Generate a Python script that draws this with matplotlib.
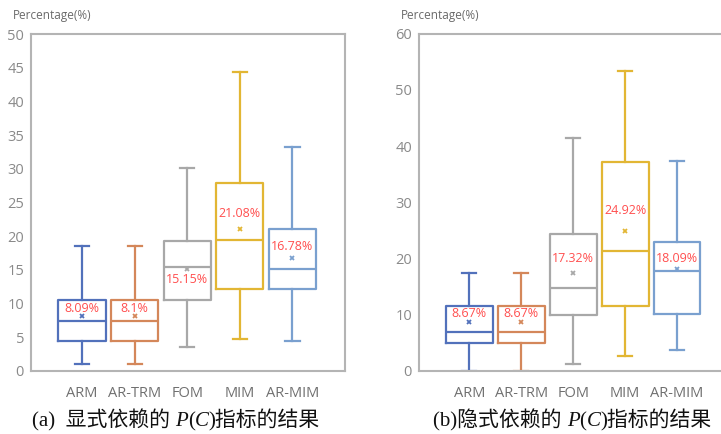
import matplotlib
matplotlib.use("Agg")
import matplotlib.pyplot as plt
from matplotlib.offsetbox import TextArea, HPacker, AnchoredOffsetbox

# Categories and box statistics
methods = ["ARM", "AR-TRM", "FOM", "MIM", "AR-MIM"]
colors = ["#5271bb", "#d4875a", "#a8a8a8", "#e2b634", "#7aa0cf"]

# (a) explicit dependency
a_whislo = [1.0, 1.0, 3.6, 4.8, 4.5]
a_q1 = [4.4, 4.4, 10.5, 12.2, 12.1]
a_med = [7.4, 7.4, 15.5, 19.4, 15.1]
a_q3 = [10.6, 10.6, 19.3, 27.9, 21.0]
a_whishi = [18.6, 18.6, 30.1, 44.3, 33.3]
a_mean = [8.09, 8.1, 15.15, 21.08, 16.78]
a_labels = ["8.09%", "8.1%", "15.15%", "21.08%", "16.78%"]
a_label_y = [9.3, 9.3, 13.6, 23.4, 18.5]

# (b) implicit dependency
b_whislo = [0.0, 0.0, 1.2, 2.6, 3.7]
b_q1 = [4.9, 4.9, 10.0, 11.5, 10.1]
b_med = [6.9, 6.9, 14.7, 21.3, 17.7]
b_q3 = [11.6, 11.6, 24.4, 37.1, 23.0]
b_whishi = [17.4, 17.4, 41.4, 53.3, 37.4]
b_mean = [8.67, 8.67, 17.32, 24.92, 18.09]
b_labels = ["8.67%", "8.67%", "17.32%", "24.92%", "18.09%"]
b_label_y = [10.2, 10.2, 20.0, 28.5, 20.0]

sans = ["Open Sans", "DejaVu Sans"]
plt.rcParams["font.family"] = sans

fig = plt.figure(figsize=(7.21, 4.34), dpi=100)
ax_a = fig.add_axes([31 / 721, 63 / 434, 314 / 721, 337 / 434])
ax_b = fig.add_axes([419 / 721, 63.3 / 434, 310 / 721, 337 / 434])


def draw_panel(ax, whislo, q1, med, q3, whishi, mean, labels, label_y, ymax, ystep):
    pos = list(range(1, len(methods) + 1))
    for i in range(len(methods)):
        c = colors[i]
        s = dict(whislo=whislo[i], q1=q1[i], med=med[i], q3=q3[i],
                 whishi=whishi[i], mean=mean[i], fliers=[])
        ax.bxp([s], positions=[pos[i]], widths=0.9, showmeans=True,
               showfliers=False,
               boxprops=dict(color=c, linewidth=1.6),
               medianprops=dict(color=c, linewidth=1.6),
               whiskerprops=dict(color=c, linewidth=1.6),
               capprops=dict(color=c, linewidth=1.6),
               capwidths=0.27,
               meanprops=dict(marker="x", markeredgecolor=c, markersize=3.5,
                              markeredgewidth=1.3))
        ax.text(pos[i], label_y[i], labels[i], color="#ff4f4f", fontsize=9,
                ha="center", va="center")
    ax.set_xlim(0.03, 6.0)
    ax.set_ylim(0, ymax)
    ax.set_yticks(range(0, ymax + 1, ystep))
    ax.set_xticks(pos)
    ax.set_xticklabels(methods)
    ax.tick_params(axis="both", length=0, colors="#8a8a8a", labelsize=10.5, pad=5)
    ax.tick_params(axis="x", pad=11, colors="#707070")
    for sp in ax.spines.values():
        sp.set_color("#b4b4b4")
        sp.set_linewidth(1.5)
    ax.text(-0.058, 1.035, "Percentage(%)", transform=ax.transAxes, fontsize=8.5,
            color="#6a6a6a", ha="left", va="bottom")


draw_panel(ax_a, a_whislo, a_q1, a_med, a_q3, a_whishi, a_mean, a_labels, a_label_y, 50, 5)
draw_panel(ax_b, b_whislo, b_q1, b_med, b_q3, b_whishi, b_mean, b_labels, b_label_y, 60, 10)


def caption(parts, x, y):
    serif = ["Liberation Serif", "Noto Sans CJK SC"]
    boxes = []
    for txt, italic in parts:
        boxes.append(TextArea(txt, textprops=dict(family=serif, fontsize=15,
                                                  style="italic" if italic else "normal",
                                                  color="#111111")))
    pack = HPacker(children=boxes, pad=0, sep=0, align="baseline")
    anchored = AnchoredOffsetbox(loc="center left", child=pack, frameon=False,
                                 bbox_to_anchor=(x, y), bbox_transform=fig.transFigure,
                                 borderpad=0, pad=0)
    fig.add_artist(anchored)


caption([("(a)  显式依赖的 ", False), ("P", True), ("(", False), ("C", True),
         (")指标的结果", False)], 32 / 721, 1 - 420 / 434)
caption([("(b)隐式依赖的 ", False), ("P", True), ("(", False), ("C", True),
         (")指标的结果", False)], 433 / 721, 1 - 420 / 434)

fig.savefig("out.png", dpi=100)
